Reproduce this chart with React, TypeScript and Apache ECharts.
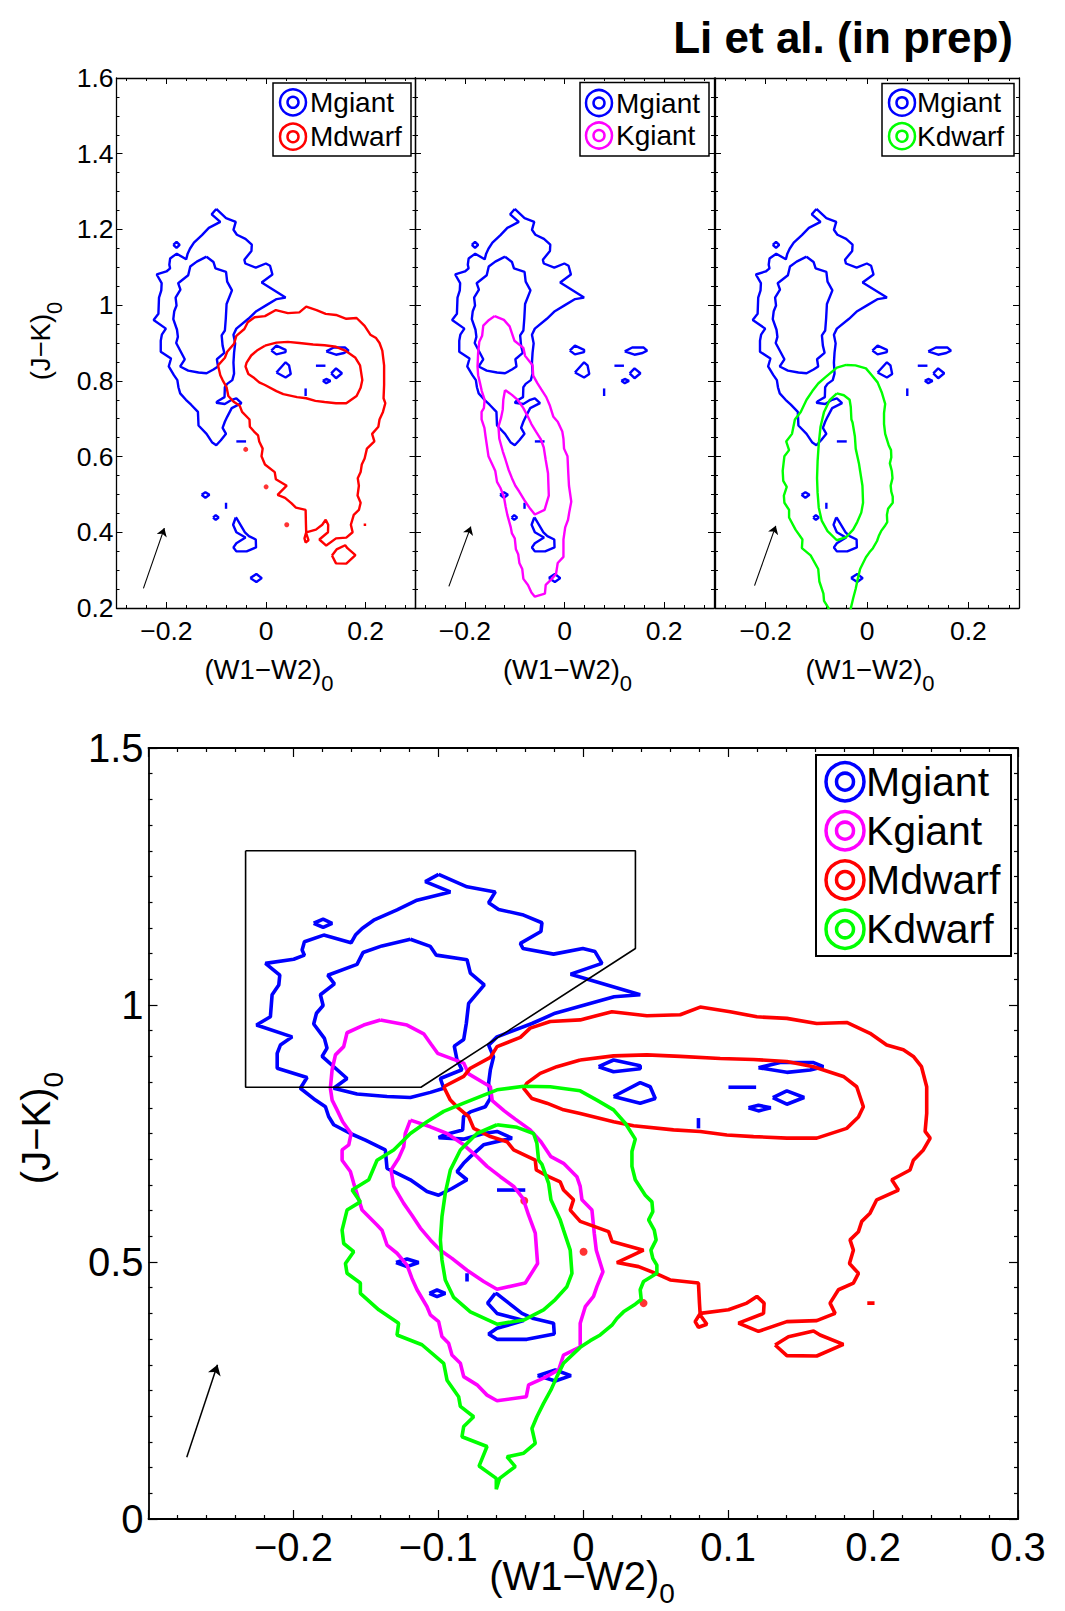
import React, { useEffect, useRef } from 'react';
import * as echarts from 'echarts';

type Pt = [number, number];

const FONT = "'Liberation Sans', Arial, Helvetica, sans-serif";
const BLUE = '#0000ff';
const MAGENTA = '#ff00ff';
const RED = '#ff0000';
const GREEN = '#00ff00';

// ---------- contour data, in ((W1-W2)_0, (J-K)_0) ----------
const MGIANT_OUTER: Pt[] = [
  [-0.0998, 1.254], [-0.0802, 1.230], [-0.0607, 1.220], [-0.0653, 1.199], [-0.0584, 1.186], [-0.0412, 1.175],
  [-0.0285, 1.160], [-0.0292, 1.143], [-0.0434, 1.120], [-0.0416, 1.110], [-0.0205, 1.099], [-0.0003, 1.110],
  [0.0081, 1.104], [0.0129, 1.081], [-0.0087, 1.060], [0.0393, 1.020], [0.0213, 1.016], [0.0009, 1.000],
  [-0.0194, 0.984], [-0.0354, 0.964], [-0.0595, 0.938], [-0.0653, 0.922], [-0.0619, 0.899], [-0.0641, 0.874],
  [-0.0653, 0.848], [-0.0641, 0.819], [-0.0676, 0.802], [-0.0779, 0.792], [-0.0826, 0.783], [-0.0832, 0.757],
  [-0.0963, 0.747], [-0.0998, 0.742], [-0.0826, 0.739], [-0.0688, 0.750], [-0.0595, 0.754], [-0.0492, 0.741],
  [-0.0688, 0.728], [-0.0779, 0.705], [-0.0826, 0.692], [-0.0871, 0.676], [-0.0802, 0.660], [-0.0906, 0.643],
  [-0.0998, 0.630], [-0.1078, 0.637], [-0.1193, 0.660], [-0.1354, 0.682], [-0.1366, 0.718], [-0.1503, 0.737],
  [-0.1607, 0.750], [-0.1722, 0.767], [-0.1757, 0.783], [-0.1779, 0.802], [-0.1848, 0.815], [-0.1952, 0.838],
  [-0.1906, 0.859], [-0.2112, 0.877], [-0.2112, 0.906], [-0.2090, 0.922], [-0.2009, 0.938], [-0.2255, 0.961],
  [-0.2159, 0.977], [-0.2147, 1.020], [-0.2101, 1.039], [-0.2094, 1.058], [-0.2193, 1.081], [-0.1998, 1.089],
  [-0.1924, 1.097], [-0.1940, 1.107], [-0.1924, 1.123], [-0.1791, 1.136], [-0.1602, 1.121], [-0.1572, 1.136],
  [-0.1526, 1.149], [-0.1446, 1.165], [-0.1285, 1.185], [-0.1147, 1.204], [-0.0917, 1.220], [-0.1090, 1.240],
  [-0.0998, 1.254],
];

const MGIANT_INNER: Pt[] = [
  [-0.1193, 1.128], [-0.1055, 1.114], [-0.1014, 1.097], [-0.0802, 1.088], [-0.0779, 1.062], [-0.0683, 1.039],
  [-0.0791, 1.003], [-0.0807, 0.964], [-0.0825, 0.933], [-0.0890, 0.920], [-0.0871, 0.893], [-0.0837, 0.874],
  [-0.0986, 0.857], [-0.0963, 0.838], [-0.1055, 0.830], [-0.1193, 0.820], [-0.1354, 0.822], [-0.1561, 0.827],
  [-0.1722, 0.838], [-0.1630, 0.857], [-0.1802, 0.900], [-0.1768, 0.916], [-0.1786, 0.935], [-0.1860, 0.963],
  [-0.1841, 0.984], [-0.1795, 0.999], [-0.1814, 1.020], [-0.1717, 1.041], [-0.1763, 1.058], [-0.1561, 1.079],
  [-0.1520, 1.102], [-0.1389, 1.115], [-0.1193, 1.128],
];

const MGIANT_ISLANDS: Pt[][] = [
  [[-0.186, 1.159], [-0.1795, 1.167], [-0.1733, 1.159], [-0.1795, 1.151], [-0.186, 1.159]],
  [[0.0106, 0.880], [0.0209, 0.893], [0.0393, 0.882], [0.0393, 0.876], [0.0209, 0.870], [0.0106, 0.880]],
  [[0.0209, 0.822], [0.0393, 0.849], [0.0462, 0.841], [0.0497, 0.818], [0.0393, 0.809], [0.0209, 0.822]],
  [[0.1209, 0.878], [0.1359, 0.888], [0.1589, 0.888], [0.1657, 0.880], [0.1566, 0.8735], [0.1405, 0.869], [0.1209, 0.878]],
  [[0.1002, 0.840], [0.1193, 0.840]],
  [[0.1308, 0.820], [0.1405, 0.833], [0.1524, 0.820], [0.1405, 0.807], [0.1308, 0.820]],
  [[0.114, 0.800], [0.1209, 0.805], [0.1294, 0.800], [0.1209, 0.794], [0.114, 0.800]],
  [[0.0795, 0.780], [0.0795, 0.760]],
  [[-0.0595, 0.640], [-0.040, 0.640]],
  [[-0.1292, 0.499], [-0.1216, 0.506], [-0.1136, 0.499], [-0.1216, 0.491], [-0.1292, 0.499]],
  [[-0.1062, 0.439], [-0.1009, 0.4455], [-0.0952, 0.439], [-0.1009, 0.4326], [-0.1062, 0.439]],
  [[-0.0802, 0.478], [-0.0802, 0.462]],
  [[-0.0607, 0.439], [-0.0660, 0.420], [-0.0595, 0.400], [-0.0411, 0.386], [-0.0595, 0.371], [-0.0653, 0.360],
   [-0.0595, 0.3495], [-0.0389, 0.3495], [-0.0200, 0.360], [-0.0205, 0.381], [-0.0343, 0.390], [-0.0423, 0.400],
   [-0.0595, 0.438], [-0.0607, 0.439]],
  [[-0.0315, 0.279], [-0.0193, 0.290], [-0.0085, 0.279], [-0.0193, 0.2685], [-0.0315, 0.279]],
];

const KGIANT_OUTER: Pt[] = [
  [-0.140, 0.971], [-0.1216, 0.961], [-0.1101, 0.944], [-0.1051, 0.924], [-0.1005, 0.906], [-0.0825, 0.887],
  [-0.0791, 0.866], [-0.0641, 0.841], [-0.0628, 0.814], [-0.0545, 0.794], [-0.0469, 0.778], [-0.0366, 0.757],
  [-0.0292, 0.734], [-0.0223, 0.705], [-0.0136, 0.692], [-0.0044, 0.666], [-0.0021, 0.647], [-0.0009, 0.621],
  [0.0060, 0.601], [0.0076, 0.556], [0.0090, 0.523], [0.0136, 0.481], [0.0094, 0.452], [0.0071, 0.433],
  [0.0014, 0.413], [-0.0021, 0.381], [-0.0021, 0.335], [-0.0136, 0.319], [-0.0170, 0.290], [-0.0274, 0.274],
  [-0.0377, 0.261], [-0.0393, 0.238], [-0.0595, 0.230], [-0.0664, 0.241], [-0.0733, 0.261], [-0.0825, 0.277],
  [-0.0848, 0.303], [-0.0906, 0.319], [-0.0929, 0.342], [-0.0975, 0.355], [-0.0998, 0.384], [-0.1055, 0.397],
  [-0.1078, 0.413], [-0.1147, 0.446], [-0.1182, 0.468], [-0.1216, 0.494], [-0.1285, 0.517], [-0.1354, 0.533],
  [-0.1389, 0.562], [-0.1423, 0.572], [-0.1526, 0.601], [-0.1584, 0.653], [-0.1607, 0.676], [-0.1664, 0.698],
  [-0.1664, 0.718], [-0.1618, 0.728], [-0.1602, 0.750], [-0.1660, 0.773], [-0.1699, 0.796], [-0.1733, 0.815],
  [-0.1745, 0.838], [-0.1733, 0.874], [-0.1710, 0.903], [-0.1653, 0.919], [-0.1630, 0.946], [-0.1515, 0.961],
  [-0.140, 0.971],
];

const KGIANT_INNER: Pt[] = [
  [-0.1193, 0.776], [-0.1055, 0.763], [-0.0940, 0.750], [-0.0825, 0.728], [-0.0733, 0.705], [-0.0664, 0.686],
  [-0.0572, 0.666], [-0.0480, 0.647], [-0.0416, 0.624], [-0.0377, 0.591], [-0.0331, 0.556], [-0.0315, 0.497],
  [-0.0400, 0.459], [-0.0595, 0.447], [-0.0687, 0.462], [-0.0802, 0.484], [-0.0906, 0.507], [-0.0986, 0.523],
  [-0.1055, 0.543], [-0.1124, 0.566], [-0.1182, 0.591], [-0.1239, 0.614], [-0.1308, 0.647], [-0.1326, 0.679],
  [-0.1274, 0.702], [-0.1239, 0.724], [-0.1228, 0.750], [-0.1193, 0.776],
];

const KDWARF_OUTER: Pt[] = [
  [-0.0411, 0.842], [-0.0228, 0.841], [-0.0021, 0.833], [0.0094, 0.815], [0.0209, 0.796], [0.0290, 0.770],
  [0.0359, 0.739], [0.0336, 0.715], [0.0336, 0.686], [0.0359, 0.660], [0.0428, 0.630], [0.0474, 0.617],
  [0.0480, 0.598], [0.0451, 0.582], [0.0490, 0.562], [0.0503, 0.543], [0.0467, 0.523], [0.0480, 0.507],
  [0.0508, 0.494], [0.0508, 0.478], [0.0416, 0.462], [0.0393, 0.446], [0.0400, 0.427], [0.0359, 0.418],
  [0.0278, 0.403], [0.0232, 0.390], [0.0198, 0.377], [0.0117, 0.358], [0.0048, 0.347], [-0.0021, 0.334],
  [-0.0136, 0.303], [-0.0182, 0.277], [-0.0223, 0.251], [-0.0274, 0.225], [-0.0320, 0.199], [-0.0354, 0.176],
  [-0.0331, 0.147], [-0.0411, 0.128], [-0.0526, 0.121], [-0.0469, 0.102], [-0.0577, 0.079], [-0.0600, 0.058],
  [-0.0600, 0.079], [-0.0719, 0.103], [-0.0664, 0.141], [-0.0837, 0.160], [-0.0825, 0.180], [-0.0756, 0.199],
  [-0.0848, 0.219], [-0.0860, 0.238], [-0.0940, 0.270], [-0.0963, 0.303], [-0.1113, 0.339], [-0.1285, 0.358],
  [-0.1274, 0.381], [-0.1411, 0.407], [-0.1538, 0.439], [-0.1538, 0.459], [-0.1630, 0.478], [-0.1641, 0.497],
  [-0.1584, 0.520], [-0.1653, 0.536], [-0.1664, 0.562], [-0.1630, 0.601], [-0.1538, 0.617], [-0.1595, 0.640],
  [-0.1480, 0.660], [-0.1423, 0.698], [-0.1308, 0.718], [-0.1193, 0.750], [-0.1078, 0.773], [-0.0963, 0.793],
  [-0.0825, 0.809], [-0.0595, 0.835], [-0.0411, 0.842],
];

const KDWARF_INNER: Pt[] = [
  [-0.0595, 0.767], [-0.0457, 0.762], [-0.0343, 0.750], [-0.0320, 0.731], [-0.0308, 0.698], [-0.0285, 0.690],
  [-0.0239, 0.653], [-0.0223, 0.621], [-0.0159, 0.582], [-0.0136, 0.562], [-0.0090, 0.523], [-0.0078, 0.478],
  [-0.0113, 0.452], [-0.0193, 0.427], [-0.0274, 0.407], [-0.0411, 0.387], [-0.0595, 0.379], [-0.0779, 0.403],
  [-0.0894, 0.431], [-0.0952, 0.465], [-0.0975, 0.504], [-0.0986, 0.543], [-0.0975, 0.588], [-0.0952, 0.634],
  [-0.0917, 0.679], [-0.0848, 0.718], [-0.0733, 0.750], [-0.0595, 0.767],
];

const MDWARF_OUTER: Pt[] = [
  [-0.0963, 0.841], [-0.0825, 0.861], [-0.0779, 0.877], [-0.0641, 0.898], [-0.0595, 0.919], [-0.0434, 0.937],
  [-0.0366, 0.955], [-0.0228, 0.968], [-0.0021, 0.971], [0.0198, 0.987], [0.0439, 0.979], [0.0669, 0.981],
  [0.0807, 0.996], [0.1014, 0.987], [0.1198, 0.977], [0.1405, 0.974], [0.1611, 0.964], [0.1818, 0.966],
  [0.1979, 0.945], [0.2094, 0.922], [0.2209, 0.913], [0.2278, 0.900], [0.2334, 0.880], [0.2370, 0.841],
  [0.2370, 0.789], [0.2359, 0.754], [0.2394, 0.741], [0.2347, 0.718], [0.2278, 0.698], [0.2255, 0.679],
  [0.2129, 0.660], [0.2175, 0.640], [0.2025, 0.621], [0.1979, 0.595], [0.1922, 0.579], [0.1899, 0.559],
  [0.1841, 0.543], [0.1864, 0.523], [0.1837, 0.497], [0.1899, 0.478], [0.1864, 0.459], [0.1761, 0.446],
  [0.1703, 0.420], [0.1738, 0.400], [0.1611, 0.386], [0.1405, 0.384], [0.1209, 0.365], [0.1071, 0.381],
  [0.1244, 0.400], [0.1248, 0.420], [0.1198, 0.433], [0.1129, 0.420], [0.1002, 0.407], [0.0807, 0.400],
  [0.0772, 0.384], [0.0795, 0.373], [0.0853, 0.379], [0.0807, 0.397], [0.0802, 0.420], [0.0795, 0.459],
  [0.0600, 0.465], [0.0508, 0.477], [0.0382, 0.491], [0.0232, 0.499], [0.0416, 0.523], [0.0198, 0.540],
  [0.0175, 0.559], [-0.0021, 0.579], [-0.0090, 0.601], [-0.0067, 0.621], [-0.0136, 0.640], [-0.0159, 0.656],
  [-0.0239, 0.666], [-0.0324, 0.679], [-0.0331, 0.698], [-0.0480, 0.718], [-0.0526, 0.734], [-0.0641, 0.744],
  [-0.0756, 0.760], [-0.0791, 0.783], [-0.0871, 0.802], [-0.0917, 0.815], [-0.0963, 0.841],
];

const MDWARF_INNER: Pt[] = [
  [-0.0021, 0.893], [0.0209, 0.901], [0.0439, 0.903], [0.0669, 0.900], [0.0945, 0.896], [0.1175, 0.894],
  [0.1405, 0.890], [0.1589, 0.880], [0.1795, 0.861], [0.1887, 0.841], [0.1933, 0.802], [0.1899, 0.782],
  [0.1818, 0.760], [0.1611, 0.741], [0.1405, 0.741], [0.1175, 0.744], [0.0991, 0.747], [0.0807, 0.754],
  [0.0623, 0.757], [0.0347, 0.765], [0.0209, 0.773], [-0.0021, 0.789], [-0.0136, 0.796], [-0.0251, 0.809],
  [-0.0354, 0.818], [-0.0411, 0.838], [-0.0389, 0.848], [-0.0297, 0.867], [-0.0182, 0.880], [-0.0021, 0.893],
];

const MDWARF_ISLANDS: Pt[][] = [
  [[0.1324, 0.3385], [0.1416, 0.3547], [0.1589, 0.3658], [0.1634, 0.358], [0.1795, 0.3398], [0.1611, 0.3171], [0.1405, 0.3178], [0.1324, 0.3385]],
  [[0.196, 0.420], [0.201, 0.420]],
];

const MDWARF_DOTS: Pt[] = [[-0.0407, 0.619], [0.0002, 0.520], [0.0416, 0.420]];

// selection region drawn in the combined panel
const SELECTION_BOX: Pt[] = [[-0.233, 1.30], [0.036, 1.30], [0.036, 1.11], [-0.112, 0.84], [-0.233, 0.84], [-0.233, 1.30]];

// reddening arrows
const ARROW_P1: Pt[] = [[-0.246, 0.252], [-0.204, 0.411]];
const ARROW_P2: Pt[] = [[-0.232, 0.257], [-0.188, 0.415]];
const ARROW_P3: Pt[] = [[-0.222, 0.259], [-0.180, 0.417]];
const ARROW_MAIN: Pt[] = [[-0.2736, 0.120], [-0.2524, 0.300]];

// tick values of the small panels' x axes
const TOP_X_MAJOR = [-0.2, 0, 0.2];
const TOP_X_MINOR = [-0.28, -0.24, -0.16, -0.12, -0.08, -0.04, 0.04, 0.08, 0.12, 0.16, 0.24, 0.28];

const TITLE = 'Li et al. (in prep)';
const LEGEND_P1 = ['Mgiant', 'Mdwarf'];
const LEGEND_P2 = ['Mgiant', 'Kgiant'];
const LEGEND_P3 = ['Mgiant', 'Kdwarf'];
const LEGEND_MAIN = ['Mgiant', 'Kgiant', 'Mdwarf', 'Kdwarf'];

const SPECIES: Record<string, { color: string; lines: Pt[][]; dots?: Pt[] }> = {
  Mgiant: { color: BLUE, lines: [MGIANT_OUTER, MGIANT_INNER, ...MGIANT_ISLANDS] },
  Kgiant: { color: MAGENTA, lines: [KGIANT_OUTER, KGIANT_INNER] },
  Mdwarf: { color: RED, lines: [MDWARF_OUTER, MDWARF_INNER, ...MDWARF_ISLANDS], dots: MDWARF_DOTS },
  Kdwarf: { color: GREEN, lines: [KDWARF_OUTER, KDWARF_INNER] },
};

const fmt = (v: number) => {
  let r = Math.round(v * 1000) / 1000;
  if (r === 0) r = 0;
  return String(r).replace('-', '\u2212');
};

type Panel = {
  left: number; top: number; width: number; height: number;
  species: string[]; arrow: Pt[]; yLabels: boolean; main: boolean;
};

const PANELS: Panel[] = [
  { left: 116.5, top: 78, width: 299, height: 530, species: ['Mgiant', 'Mdwarf'], arrow: ARROW_P1, yLabels: true, main: false },
  { left: 415, top: 78, width: 299, height: 530, species: ['Mgiant', 'Kgiant'], arrow: ARROW_P2, yLabels: false, main: false },
  { left: 715, top: 78, width: 304, height: 530, species: ['Mgiant', 'Kdwarf'], arrow: ARROW_P3, yLabels: false, main: false },
  { left: 148.5, top: 748, width: 869.5, height: 771, species: ['Mgiant', 'Kgiant', 'Mdwarf', 'Kdwarf'], arrow: ARROW_MAIN, yLabels: true, main: true },
];

function buildOption() {
  const grids: any[] = [];
  const xAxes: any[] = [];
  const yAxes: any[] = [];
  const series: any[] = [];
  const graphic: any[] = [];

  PANELS.forEach((p, gi) => {
    grids.push({ left: p.left, top: p.top, width: p.width, height: p.height, show: false, containLabel: false, outerBoundsMode: 'none' });
    const small = !p.main;
    const lineW = small ? 1.3 : 1.8;
    const majLen = small ? 6 : 9;
    const minLen = small ? 3 : 4;
    const fs = small ? 26.5 : 40;
    const tickStyle = { color: '#000', width: small ? 1 : 1.2 };
    const common = { type: 'value', gridIndex: gi, splitLine: { show: false }, splitArea: { show: false }, silent: true };
    const xBase = { ...common, min: -0.3, max: 0.3 };
    const yBase = small ? { ...common, min: 0.2, max: 1.6, interval: 0.2 } : { ...common, min: 0, max: 1.5, interval: 0.5 };
    const labelStyle = { color: '#000', fontFamily: FONT, fontSize: fs, formatter: fmt };

    const mainX = xAxes.length;
    (['bottom', 'top'] as const).forEach((pos) => {
      if (small) {
        xAxes.push({
          ...xBase, position: pos,
          axisLine: { show: true, onZero: false, lineStyle: { color: '#000', width: lineW } },
          axisTick: { show: true, inside: true, length: majLen, customValues: TOP_X_MAJOR, lineStyle: tickStyle },
          minorTick: { show: false },
          axisLabel: pos === 'bottom' ? { show: true, customValues: TOP_X_MAJOR, margin: 9, ...labelStyle } : { show: false },
        });
        xAxes.push({
          ...xBase, position: pos,
          axisLine: { show: false, onZero: false },
          axisTick: { show: true, inside: true, length: minLen, customValues: TOP_X_MINOR, lineStyle: tickStyle },
          minorTick: { show: false },
          axisLabel: { show: false },
        });
      } else {
        xAxes.push({
          ...xBase, interval: 0.1, position: pos,
          axisLine: { show: true, onZero: false, lineStyle: { color: '#000', width: lineW } },
          axisTick: { show: true, inside: true, length: majLen, lineStyle: tickStyle },
          minorTick: { show: true, splitNumber: 5, length: minLen, lineStyle: tickStyle },
          axisLabel: pos === 'bottom' ? { show: true, showMinLabel: false, margin: 8, ...labelStyle } : { show: false },
        });
      }
    });

    const mainY = yAxes.length;
    (['left', 'right'] as const).forEach((pos) => {
      yAxes.push({
        ...yBase, position: pos,
        axisLine: { show: true, onZero: false, lineStyle: { color: '#000', width: lineW } },
        axisTick: { show: true, inside: true, length: majLen, lineStyle: tickStyle },
        minorTick: { show: true, splitNumber: small ? 4 : 10, length: minLen, lineStyle: tickStyle },
        axisLabel: pos === 'left' && p.yLabels ? { show: true, margin: small ? 3 : 5, ...labelStyle } : { show: false },
      });
    });

    const lw = small ? 2.4 : 3.6;
    p.species.forEach((sp) => {
      const S = SPECIES[sp];
      S.lines.forEach((d) => {
        series.push({
          type: 'line', name: sp, data: d, xAxisIndex: mainX, yAxisIndex: mainY,
          showSymbol: false, symbol: 'none', silent: true, clip: true, smooth: false,
          lineStyle: { color: S.color, width: lw }, itemStyle: { color: S.color },
        });
      });
      if (S.dots) {
        series.push({
          type: 'scatter', name: sp, data: S.dots, xAxisIndex: mainX, yAxisIndex: mainY,
          symbolSize: small ? 5 : 8, silent: true, itemStyle: { color: S.color },
        });
      }
    });
    if (p.main) {
      series.push({
        type: 'line', name: 'selection', data: SELECTION_BOX, xAxisIndex: mainX, yAxisIndex: mainY,
        showSymbol: false, symbol: 'none', silent: true, lineStyle: { color: '#000', width: 1.6 }, itemStyle: { color: '#000' },
      });
    }
    series.push({
      type: 'lines', name: 'reddening', coordinateSystem: 'cartesian2d', xAxisIndex: mainX, yAxisIndex: mainY,
      data: [{ coords: p.arrow }], symbol: ['none', 'arrow'], symbolSize: small ? 8 : 10, silent: true,
      lineStyle: { color: '#000', width: small ? 1.1 : 1.5, opacity: 1, curveness: 0 }, itemStyle: { color: '#000' },
    });
  });

  // ----- legends -----
  const addLegend = (box: number[], names: string[], iconX: number, textX: number, ys: number[], rOut: number, rIn: number, lw: number, fs: number, boxW: number) => {
    graphic.push({ type: 'rect', z: 100, silent: true, shape: { x: box[0], y: box[1], width: box[2], height: box[3] }, style: { fill: '#fff', stroke: '#000', lineWidth: boxW } });
    names.forEach((n, i) => {
      const c = SPECIES[n].color;
      graphic.push({ type: 'circle', z: 101, silent: true, shape: { cx: iconX, cy: ys[i], r: rOut }, style: { fill: 'none', stroke: c, lineWidth: lw } });
      graphic.push({ type: 'circle', z: 101, silent: true, shape: { cx: iconX, cy: ys[i], r: rIn }, style: { fill: 'none', stroke: c, lineWidth: lw } });
      graphic.push({
        type: 'text', z: 101, silent: true, x: textX, y: ys[i],
        style: { text: n, fontSize: fs, fontFamily: FONT, fill: '#000', align: 'left', verticalAlign: 'middle', textAlign: 'left', textVerticalAlign: 'middle' },
      });
    });
  };
  addLegend([273, 83, 138, 73], LEGEND_P1, 293, 310, [102.3, 136.7], 13, 5.5, 2.5, 28, 1.5);
  addLegend([580, 82.5, 129, 73.5], LEGEND_P2, 599, 616, [103, 135.5], 13, 5.5, 2.5, 28, 1.5);
  addLegend([882, 83.5, 132, 72.5], LEGEND_P3, 902, 917, [102.7, 136.2], 13, 5.5, 2.5, 28, 1.5);
  addLegend([816, 755, 195, 201], LEGEND_MAIN, 845, 866, [781.7, 830.7, 880, 929.3], 19, 8.5, 3.5, 41, 2);

  // ----- axis titles with subscripts -----
  const richSmall = {
    a: { fontSize: 27.5, fontFamily: FONT, lineHeight: 50, verticalAlign: 'middle', fill: '#000', color: '#000' },
    b: { fontSize: 22, fontFamily: FONT, lineHeight: 22, verticalAlign: 'bottom', fill: '#000', color: '#000' },
  };
  const richBig = {
    a: { fontSize: 40, fontFamily: FONT, lineHeight: 62, verticalAlign: 'middle', fill: '#000', color: '#000' },
    b: { fontSize: 28, fontFamily: FONT, lineHeight: 28, verticalAlign: 'bottom', fill: '#000', color: '#000' },
  };
  const xTitle = '{a|(W1\u2212W2)}{b|0}';
  const yTitle = '{a|(J\u2212K)}{b|0}';
  const addTitle = (x: number, y: number, text: string, rich: any, rotation: number) => {
    graphic.push({
      type: 'text', z: 101, silent: true, x, y, rotation,
      style: { text, rich, fill: '#000', align: 'center', verticalAlign: 'middle', textAlign: 'center', textVerticalAlign: 'middle' },
    });
  };
  addTitle(269, 669, xTitle, richSmall, 0);
  addTitle(567.5, 669, xTitle, richSmall, 0);
  addTitle(870, 669, xTitle, richSmall, 0);
  addTitle(40, 341, yTitle, richSmall, Math.PI / 2);
  addTitle(582, 1576, xTitle, richBig, 0);
  addTitle(36, 1128, yTitle, richBig, Math.PI / 2);

  return {
    animation: false,
    backgroundColor: '#ffffff',
    textStyle: { fontFamily: FONT },
    title: {
      text: TITLE, right: 52, top: 15, padding: 0,
      textStyle: { fontFamily: FONT, fontSize: 44, fontWeight: 'bold', color: '#000', lineHeight: 44 },
    },
    grid: grids,
    xAxis: xAxes,
    yAxis: yAxes,
    series,
    graphic,
  };
}

export default function App() {
  const ref = useRef<HTMLDivElement>(null);
  useEffect(() => {
    document.body.style.margin = '0';
    document.body.style.overflow = 'hidden';
    if (!ref.current) return;
    const chart = echarts.init(ref.current, undefined, { renderer: 'svg' });
    chart.setOption(buildOption() as any);
    return () => chart.dispose();
  }, []);
  return <div ref={ref} style={{ position: 'absolute', left: 0, top: 0, width: 1065, height: 1611, background: '#fff' }} />;
}
